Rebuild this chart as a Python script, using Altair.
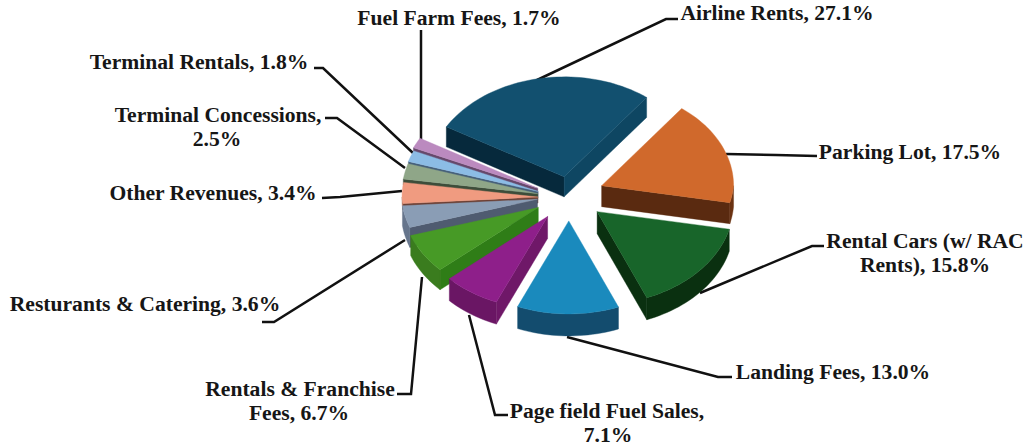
import math
import altair as alt

# Revenue shares, clockwise from the upper left
names = ["Airline Rents", "Parking Lot", "Rental Cars (w/ RAC Rents)", "Landing Fees",
         "Page field Fuel Sales", "Rentals & Franchise Fees", "Resturants & Catering",
         "Other Revenues", "Terminal Concessions", "Terminal Rentals", "Fuel Farm Fees"]
shares = [27.1, 17.5, 15.8, 13.0, 7.1, 6.7, 3.6, 3.4, 2.5, 1.8, 1.7]

# Slice styling: top face, outer wall, start-edge wall, end-edge wall
top_colors = ["#12506f", "#d0692c", "#18652a", "#1a8abd", "#8e1f8a", "#479a26",
              "#8a9db5", "#f09b80", "#8fa688", "#8cbce5", "#bb8abf"]
wall_colors = ["#0c3d57", "#6b3212", "#0a3010", "#134c6e", "#6a1664", "#3a7c1e",
               "#66758c", "#b06f58", "#5f7059", "#5e7f9c", "#7e5b80"]
start_colors = ["#06293c", "#7a3a14", "#0a3010", "#134c6e", "#6f1868", "#2f7d17",
                "#4f5b70", "#6b4035", "#3d4d3a", "#46607a", "#66486b"]
end_colors = ["#0e4662", "#5a2a10", "#0a3010", "#134c6e", "#6f1868", "#2f7d17",
              "#4f5b70", "#6b4035", "#3d4d3a", "#46607a", "#66486b"]

# Pie geometry in pixels
center = (569, 195)
radius_x, radius_y = 136, 100
tilt = 0.74
first_angle = -60.0
explode = [25, 35, 36, 35, 36, 35, 32, 31, 32, 33, 35]
drop = [0, 0, 0, 0, 0, 0, 0, 3, 4, 5, 5]
radius_scale = [1, 0.97, 1, 1, 1, 1, 1, 1, 1, 1, 1]
depth = [20, 21, 22, 22, 22, 20, 20, 6, 6, 6, 6]
paint_order = [10, 9, 8, 7, 6, 5, 0, 1, 4, 3, 2]

# Leader lines and label text
leaders = [
    [(537, 80), (666, 19), (678, 19)],
    [(726, 154), (776, 155), (817, 156)],
    [(700, 293), (812, 246), (824, 246)],
    [(567, 337), (718, 377), (732, 377)],
    [(469, 315), (495, 415), (508, 415)],
    [(422, 277), (411, 394), (397, 394)],
    [(405, 240), (274, 322), (262, 322)],
    [(402, 191), (340, 197), (322, 198)],
    [(405, 168), (337, 118), (325, 118)],
    [(413, 153), (323, 68), (314, 68)],
    [(421, 140), (421, 30)],
]
label_lines = [
    ("Airline Rents, 27.1%", 777, 13),
    ("Parking Lot, 17.5%", 910, 152),
    ("Rental Cars (w/ RAC", 925, 241),
    ("Rents), 15.8%", 925, 265),
    ("Landing Fees, 13.0%", 833, 372),
    ("Page field Fuel Sales,", 607, 411),
    ("7.1%", 608, 435),
    ("Rentals & Franchise", 300, 389),
    ("Fees, 6.7%", 299, 413),
    ("Resturants & Catering, 3.6%", 145, 304),
    ("Other Revenues, 3.4%", 213, 193),
    ("Terminal Concessions,", 218, 115),
    ("2.5%", 217, 139),
    ("Terminal Rentals, 1.8%", 199, 62),
    ("Fuel Farm Fees, 1.7%", 459, 18),
]


def feature(points, fill):
    ring = [list(p) for p in points] + [list(points[0])]
    return {"type": "Feature",
            "geometry": {"type": "Polygon", "coordinates": [ring]},
            "properties": {"fill": fill}}


def rim(apex, angle, scale):
    """Point on a slice's rim; the near side of the pie is foreshortened."""
    t = math.radians(angle)
    s = scale * (1 - 0.07 * max(0.0, -math.cos(t)))
    return (apex[0] + radius_x * s * math.sin(t), apex[1] - radius_y * s * math.cos(t))


def slice_faces(i, a0, a1):
    mid = math.radians((a0 + a1) / 2)
    apex = (center[0] + explode[i] * math.sin(mid),
            center[1] - explode[i] * tilt * math.cos(mid) + drop[i])
    d = depth[i]
    scale = radius_scale[i]
    steps = max(4, int((a1 - a0) / 2))
    arc = [rim(apex, a0 + (a1 - a0) * k / steps, scale) for k in range(steps + 1)]
    faces = []
    # Radial walls that face the viewer
    if math.sin(math.radians(a0)) < 0:
        p = arc[0]
        faces.append(feature([apex, p, (p[0], p[1] + d), (apex[0], apex[1] + d)], start_colors[i]))
    if math.sin(math.radians(a1)) > 0:
        p = arc[-1]
        faces.append(feature([apex, p, (p[0], p[1] + d), (apex[0], apex[1] + d)], end_colors[i]))
    # Outer wall on the near half of the rim
    lo, hi = max(a0, 90), min(a1, 270)
    if hi > lo:
        n = max(3, int((hi - lo) / 2))
        wall = [rim(apex, lo + (hi - lo) * k / n, scale) for k in range(n + 1)]
        lower = [(x, y + d) for x, y in reversed(wall)]
        faces.append(feature(wall + lower, wall_colors[i]))
    faces.append(feature([apex] + arc, top_colors[i]))
    return faces


total = sum(shares)
spans = []
angle = first_angle
for value in shares:
    next_angle = angle + 360 * value / total
    spans.append((angle, next_angle))
    angle = next_angle

features = []
for i in paint_order:
    features += slice_faces(i, *spans[i])

x_scale = alt.Scale(domain=[0, 1025], range=[0, 1025])
y_scale = alt.Scale(domain=[0, 446], range=[0, 446])

leader_rows = [{"leader": k, "step": j, "x": p[0], "y": p[1]}
               for k, line in enumerate(leaders) for j, p in enumerate(line)]
leader_layer = alt.Chart(alt.Data(values=leader_rows)).mark_line(
    color="#111111", strokeWidth=2.5, strokeCap="butt", strokeJoin="miter"
).encode(
    x=alt.X("x:Q", scale=x_scale, axis=None),
    y=alt.Y("y:Q", scale=y_scale, axis=None),
    detail="leader:N",
    order="step:Q",
)

pie_layer = alt.Chart(alt.Data(values=features)).mark_geoshape(
    strokeWidth=0.4, strokeOpacity=1
).encode(
    fill=alt.Fill("properties.fill:N", scale=None),
    stroke=alt.Stroke("properties.fill:N", scale=None),
).project(type="identity", scale=1, translate=[0, 0])

label_rows = [{"text": t, "x": x, "y": y} for t, x, y in label_lines]
label_layer = alt.Chart(alt.Data(values=label_rows)).mark_text(
    font="Liberation Serif", fontWeight="bold", fontSize=21.6, color="#161616",
    align="center", baseline="middle", dy=1
).encode(
    x=alt.X("x:Q", scale=x_scale, axis=None),
    y=alt.Y("y:Q", scale=y_scale, axis=None),
    text="text:N",
)

chart = alt.layer(leader_layer, pie_layer, label_layer).properties(
    width=1025, height=446, background="#ffffff", padding=0,
    autosize=alt.AutoSizeParams(type="none"),
).configure_view(stroke=None)

chart.save("out.html", embed_options={"renderer": "svg", "actions": False})
